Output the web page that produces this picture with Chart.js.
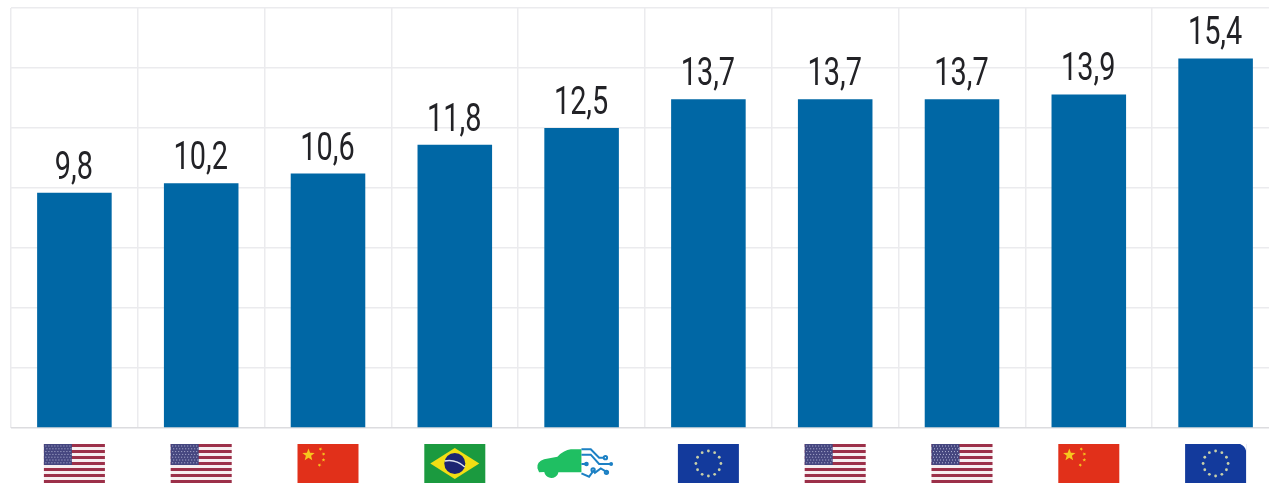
<!DOCTYPE html>
<html>
<head>
<meta charset="utf-8">
<title>Bar chart</title>
<style>
  html, body { margin: 0; padding: 0; background: #fff; overflow: hidden; }
  #wrap { width: 1269px; height: 486px; overflow: hidden; }
</style>
<script src="https://cdn.jsdelivr.net/npm/chart.js@4"></script>
</head>
<body>
<div id="wrap"><canvas id="barChart" width="1280" height="486"></canvas></div>
<script>
const categories = ['US', 'US ', 'CN', 'BR', 'EV', 'EU', 'US  ', 'US   ', 'CN ', 'EU '];
const values = [9.8, 10.2, 10.6, 11.8, 12.5, 13.7, 13.7, 13.7, 13.9, 15.4];
const flags = ['us', 'us', 'cn', 'br', 'ev', 'eu', 'us', 'us', 'cn', 'euCut'];
const yTicks = [0, 2.5, 5, 7.5, 10, 12.5, 15, 17.5];

const FLAG_W = 61, FLAG_H = 39, FLAG_TOP = 444;

function star(ctx, x, y, r, rot) {
    ctx.beginPath();
    for (let i = 0; i < 10; i++) {
        const a = rot + i * Math.PI / 5 - Math.PI / 2;
        const d = i % 2 ? r * 0.42 : r;
        ctx.lineTo(x + Math.cos(a) * d, y + Math.sin(a) * d);
    }
    ctx.closePath();
    ctx.fill();
}

function drawUs(ctx, x, y) {
    const stripe = FLAG_H / 13;
    ctx.fillStyle = '#f6eef0';
    ctx.fillRect(x, y, FLAG_W, FLAG_H);
    ctx.fillStyle = '#9c3049';
    for (let i = 0; i < 13; i += 2) {
        ctx.fillRect(x, y + i * stripe, FLAG_W, stripe);
    }
    ctx.fillStyle = '#45467f';
    ctx.fillRect(x, y, 28, 21);
    ctx.fillStyle = '#b4b6d6';
    for (let r = 0; r < 7; r++) {
        for (let c = 0; c < 9; c++) {
            ctx.fillRect(x + 1.5 + c * 3 + (r % 2), y + 1.5 + r * 2.8, 1, 1);
        }
    }
}

function drawCn(ctx, x, y) {
    ctx.fillStyle = '#e1301a';
    ctx.fillRect(x, y, FLAG_W, FLAG_H);
    ctx.fillStyle = '#f6c71e';
    star(ctx, x + 11, y + 11, 6.5, 0);
    star(ctx, x + 23, y + 5, 2, 0.4);
    star(ctx, x + 26, y + 10, 2, 0.9);
    star(ctx, x + 26, y + 16, 2, 0);
    star(ctx, x + 22, y + 21, 2, 0.4);
}

function drawBr(ctx, x, y) {
    ctx.fillStyle = '#1b9a3f';
    ctx.fillRect(x, y, FLAG_W, FLAG_H);
    ctx.fillStyle = '#f2de14';
    ctx.beginPath();
    ctx.moveTo(x + 6, y + 19.5);
    ctx.lineTo(x + 30.5, y + 4);
    ctx.lineTo(x + 55, y + 19.5);
    ctx.lineTo(x + 30.5, y + 35);
    ctx.closePath();
    ctx.fill();
    ctx.fillStyle = '#1c2472';
    ctx.beginPath();
    ctx.arc(x + 30.5, y + 19.5, 10.5, 0, Math.PI * 2);
    ctx.fill();
    ctx.strokeStyle = '#dfe3ee';
    ctx.lineWidth = 1.5;
    ctx.beginPath();
    ctx.moveTo(x + 20.5, y + 17);
    ctx.quadraticCurveTo(x + 31.5, y + 15, x + 40.5, y + 23);
    ctx.stroke();
}

function drawEu(ctx, x, y, cut) {
    ctx.fillStyle = '#133a9c';
    ctx.fillRect(x, y, FLAG_W, FLAG_H);
    if (cut) {
        // last flag has a clipped top-right corner
        ctx.fillStyle = '#ffffff';
        ctx.beginPath();
        ctx.moveTo(x + FLAG_W - 6, y);
        ctx.lineTo(x + FLAG_W, y);
        ctx.lineTo(x + FLAG_W, y + 7);
        ctx.quadraticCurveTo(x + FLAG_W - 1, y + 2, x + FLAG_W - 6, y);
        ctx.fill();
    }
    ctx.fillStyle = '#c9d0a8';
    for (let i = 0; i < 12; i++) {
        const a = i * Math.PI / 6;
        ctx.beginPath();
        ctx.arc(x + 30.5 + Math.cos(a) * 12.5, y + 19.5 + Math.sin(a) * 12.5, 1.4, 0, Math.PI * 2);
        ctx.fill();
    }
}

// car with circuit traces, sketched on a 3x grid
function drawEv(ctx, cx) {
    ctx.save();
    ctx.translate(cx - 52.5, 440);
    ctx.scale(1 / 3, 1 / 3);
    ctx.fillStyle = '#1fbf62';
    ctx.beginPath();
    ctx.moveTo(25, 85);
    ctx.quadraticCurveTo(22, 65, 45, 58);
    ctx.lineTo(85, 50);
    ctx.quadraticCurveTo(105, 30, 125, 28);
    ctx.lineTo(157, 28);
    ctx.lineTo(157, 97);
    ctx.lineTo(90, 97);
    ctx.arc(67, 92, 22, 0.2, Math.PI - 0.2);
    ctx.lineTo(30, 97);
    ctx.closePath();
    ctx.fill();

    ctx.strokeStyle = '#1c80c4';
    ctx.fillStyle = '#1c80c4';
    ctx.lineWidth = 6;
    const traces = [
        [[157, 28], [185, 28], [210, 53], [224, 53]],
        [[157, 44], [185, 44], [210, 72], [245, 72]],
        [[157, 72], [172, 72]],
        [[157, 100], [180, 110], [195, 90]],
        [[195, 100], [215, 85], [235, 97]]
    ];
    traces.forEach(t => {
        ctx.beginPath();
        t.forEach(p => ctx.lineTo(p[0], p[1]));
        ctx.stroke();
    });
    [[172, 72, 7], [246, 72, 6]].forEach(d => {
        ctx.beginPath();
        ctx.arc(d[0], d[1], d[2], 0, Math.PI * 2);
        ctx.fill();
    });
    [[229, 53], [192, 90], [232, 97]].forEach(d => {
        ctx.beginPath();
        ctx.arc(d[0], d[1], 5, 0, Math.PI * 2);
        ctx.stroke();
    });
    ctx.restore();
}

const flagRow = {
    id: 'flagRow',
    afterDraw(chart) {
        const ctx = chart.ctx;
        const xScale = chart.scales.x;
        flags.forEach((flag, i) => {
            const cx = xScale.getPixelForValue(i);
            const x = cx - FLAG_W / 2;
            if (flag === 'us') drawUs(ctx, x, FLAG_TOP);
            else if (flag === 'cn') drawCn(ctx, x, FLAG_TOP);
            else if (flag === 'br') drawBr(ctx, x, FLAG_TOP);
            else if (flag === 'eu') drawEu(ctx, x, FLAG_TOP, false);
            else if (flag === 'euCut') drawEu(ctx, x, FLAG_TOP, true);
            else if (flag === 'ev') drawEv(ctx, cx);
        });
    }
};

// no condensed face is installed, so the value labels are squeezed horizontally
const valueLabels = {
    id: 'valueLabels',
    afterDatasetsDraw(chart) {
        const ctx = chart.ctx;
        const bars = chart.getDatasetMeta(0).data;
        bars.forEach((bar, i) => {
            ctx.save();
            ctx.translate(bar.x - 0.5, bar.y - 14);
            ctx.scale(0.76, 1);
            ctx.font = '400 38px Roboto, sans-serif';
            ctx.fillStyle = '#222226';
            ctx.textAlign = 'center';
            ctx.textBaseline = 'alphabetic';
            ctx.fillText(values[i].toFixed(1).replace('.', ','), 0, 0);
            ctx.restore();
        });
    }
};

new Chart(document.getElementById('barChart'), {
    type: 'bar',
    data: {
        labels: categories,
        datasets: [{
            data: values,
            backgroundColor: '#0067a5',
            borderWidth: 0,
            barPercentage: 0.588,
            categoryPercentage: 1
        }]
    },
    options: {
        responsive: false,
        animation: false,
        layout: { padding: { left: 11, right: 1, top: 8, bottom: 58 } },
        plugins: { legend: { display: false }, tooltip: { enabled: false } },
        scales: {
            x: {
                offset: true,
                ticks: { display: false },
                border: { display: false },
                grid: { color: '#ebebee', lineWidth: 1.5, drawTicks: false }
            },
            y: {
                min: yTicks[0],
                max: yTicks[yTicks.length - 1],
                afterBuildTicks(axis) {
                    axis.ticks = yTicks.map(v => ({ value: v }));
                },
                ticks: { display: false },
                border: { display: false },
                grid: {
                    drawTicks: false,
                    color: ctx => ctx.tick.value === 0 ? '#dcdcdf' : '#ebebee',
                    lineWidth: 1.5
                }
            }
        }
    },
    plugins: [valueLabels, flagRow]
});
</script>
</body>
</html>
